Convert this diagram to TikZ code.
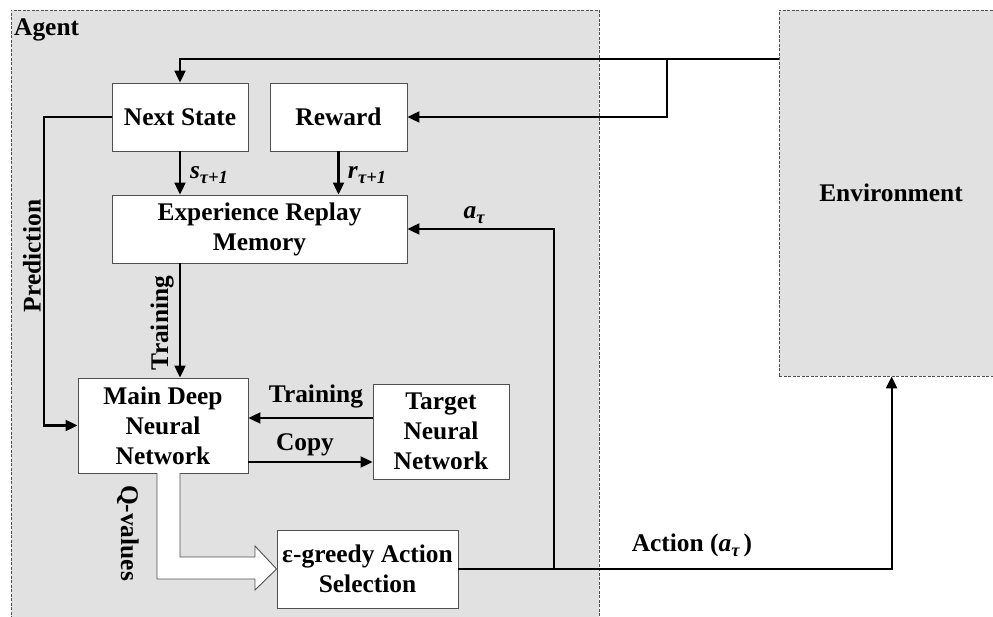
\documentclass[tikz,border=0pt]{standalone}
\usepackage{fontspec}
\setmainfont{Liberation Serif}
\usetikzlibrary{arrows.meta,calc}
\definecolor{panel}{HTML}{E1E1E1}
\definecolor{edge}{HTML}{505050}
\newcommand\mysubtxt[1]{\raisebox{-5pt}{\fontsize{18.5}{20}\selectfont\bfseries\itshape #1}}
\begin{document}
\begin{tikzpicture}[x=1pt,y=-1pt,
  every node/.style={font=\fontsize{25.4}{30}\selectfont\bfseries},
  box/.style={draw=edge, line width=0.9pt, fill=white, align=center, inner sep=0pt},
  zone/.style={draw=edge, dash pattern=on 3pt off 1.5pt, line width=0.8pt, fill=panel, inner sep=0pt},
  conn/.style={line width=2.1pt, -{Triangle[length=12pt,width=11pt]}},
  hollow/.style={draw=edge, line width=0.9pt, fill=white, line join=miter}
]
\clip (0,0) rectangle (993,617);
% zones
\node[zone, minimum width=588pt, minimum height=630pt] (agent) at (305,325) {};
\node[zone, minimum width=250pt, minimum height=366pt] (env) at (904,193) {};
\node (envtxt) at (891,193) {Environment};
\node[anchor=west, inner sep=0pt] (agenttitle) at (14,30) {Agent};
% boxes
\node[box, minimum width=136pt, minimum height=68pt] (next) at (180,117) {Next State};
\node[box, minimum width=137pt, minimum height=68pt] (reward) at (338.5,117) {Reward};
\node[box, minimum width=295pt, minimum height=68pt] (erm) at (259.5,229) {Experience Replay\\Memory};
\node[box, minimum width=170pt, minimum height=95pt] (mdnn) at (163,425.5) {Main Deep\\Neural\\Network};
\node[box, minimum width=136pt, minimum height=95pt] (tnn) at (441,431.5) {Target\\Neural\\Network};
\node[box, minimum width=181pt, minimum height=78pt] (egreedy) at (367.5,569) {ε-greedy Action\\Selection};
% coordinates
\coordinate (envtop) at ($(env.north west)+(0,49)$);
\coordinate (envin) at ($(env.south west)+(113,0)$);
\coordinate (branch) at (667,59);
\coordinate (predturn) at (44,117);
\coordinate (tr) at ([yshift=13.5pt]tnn.west);
\coordinate (cp) at ([yshift=-30.5pt]tnn.west);
\coordinate (split) at (554,569);
% connectors
\draw[conn] (envtop) -| (next.north);
\draw[conn] (branch) |- (reward.east);
\draw[conn] (next.south) -- (next.south |- erm.north);
\draw[conn] (reward.south) -- (reward.south |- erm.north);
\draw[conn] (next.west) -- (predturn) |- (mdnn.west);
\draw[conn] (next.south |- erm.south) -- (next.south |- mdnn.north);
\draw[conn] (tr) -- (tr -| mdnn.east);
\draw[conn] (cp -| mdnn.east) -- (cp);
\draw[conn] (egreedy.east) -| (envin);
\draw[conn] (split) |- (erm.east);
% hollow Q-values arrow
\draw[hollow] (157,473) -- (157,579) -- (255,579) -- (255,590) -- (egreedy.west) -- (255,546) -- (255,557) -- (180,557) -- (180,473);
% labels
\node[rotate=90] (predlbl) at (32,256) {Prediction};
\node[rotate=90] (trainlbl) at (162,323) {Training};
\node[rotate=-90] (qlbl) at (128,533) {Q-values};
\node (trainh) at (316,396) {Training};
\node (copylbl) at (305,445) {Copy};
\node (slbl) at (209,175) {\textit{s}\mysubtxt{τ+1}};
\node (rlbl) at (367,175) {\textit{r}\mysubtxt{τ+1}};
\node (albl) at (474,215) {\textit{a}\mysubtxt{τ}};
\node (actlbl) at (692,545) {Action (\textit{a}\mysubtxt{τ}\,)};
\end{tikzpicture}
\end{document}
